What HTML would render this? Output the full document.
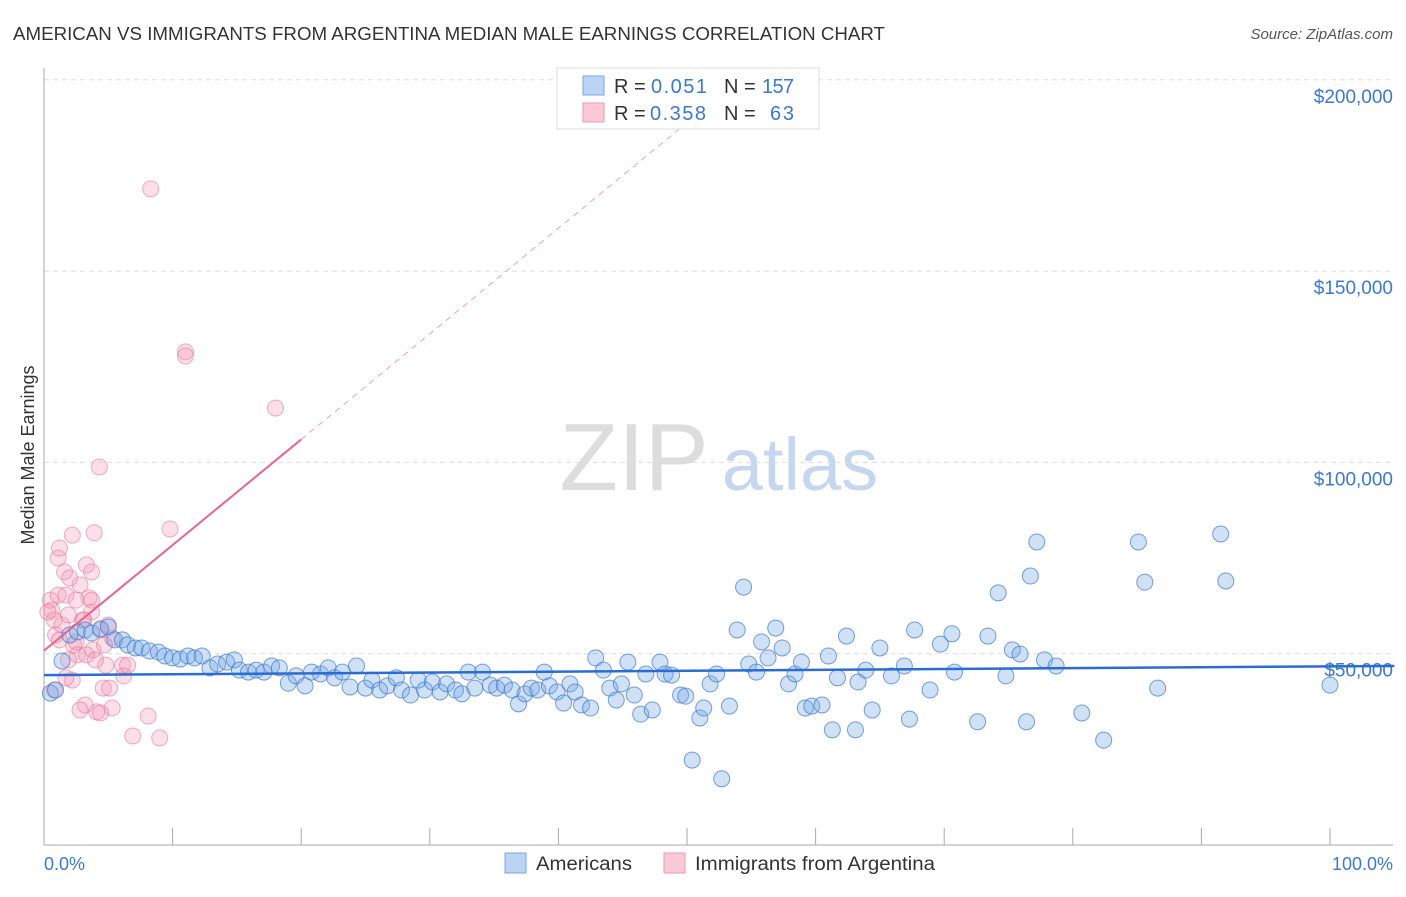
<!DOCTYPE html>
<html><head><meta charset="utf-8"><style>
body{margin:0;background:#fff;font-family:"Liberation Sans",sans-serif;}
svg text{font-family:"Liberation Sans",sans-serif;}
</style></head><body>
<svg width="1406" height="892" xmlns="http://www.w3.org/2000/svg">
<text x="13" y="40" font-size="18" fill="#333" textLength="872" lengthAdjust="spacingAndGlyphs">AMERICAN VS IMMIGRANTS FROM ARGENTINA MEDIAN MALE EARNINGS CORRELATION CHART</text>
<text x="1393" y="39" font-size="15" fill="#555" font-style="italic" text-anchor="end">Source: ZipAtlas.com</text>
<g>
<text x="634" y="490" font-size="96" fill="#ddd" font-family="Liberation Serif" text-anchor="middle">ZIP</text>
<text x="800" y="490" font-size="74" fill="#c5d6ee" text-anchor="middle">atlas</text>
</g>
<g id="grid"></g>
<g id="axes"></g>
<text transform="translate(34,455) rotate(-90)" font-size="18" fill="#333" text-anchor="middle">Median Male Earnings</text>
<text x="44" y="870" font-size="18" fill="#3a78d4">0.0%</text>
<text x="1393" y="870" font-size="18" fill="#3a78d4" text-anchor="end">100.0%</text>
<g id="pts"></g>
<g id="trend"></g>
<g>
<rect x="557" y="68" width="262" height="61" fill="#fff" stroke="#ddd"/>
<rect x="583" y="76" width="21" height="19" fill="#bcd4f4" stroke="#7aa6e0"/>
<rect x="583" y="103" width="21" height="19" fill="#fbc8d8" stroke="#eb98b3"/>
<text x="614" y="93" font-size="20" fill="#333">R = </text><text x="651" y="93" font-size="20" fill="#3a78d4" textLength="56">0.051</text>
<text x="724" y="93" font-size="20" fill="#333">N = </text><text x="762" y="93" font-size="20" fill="#3a78d4" textLength="32">157</text>
<text x="614" y="120" font-size="20" fill="#333">R = </text><text x="650" y="120" font-size="20" fill="#3a78d4" textLength="56">0.358</text>
<text x="724" y="120" font-size="20" fill="#333">N = </text><text x="770" y="120" font-size="20" fill="#3a78d4" textLength="24">63</text>
</g>
<g>
<rect x="505" y="853" width="21" height="20" fill="#bcd4f4" stroke="#7aa6e0"/>
<text x="536" y="870" font-size="19" fill="#333" textLength="96" lengthAdjust="spacingAndGlyphs">Americans</text>
<rect x="664" y="853" width="21" height="20" fill="#fbc8d8" stroke="#eb98b3"/>
<text x="695" y="870" font-size="19" fill="#333" textLength="240" lengthAdjust="spacingAndGlyphs">Immigrants from Argentina</text>
</g>
</svg>
<script>
const yTicks=[50000,100000,150000,200000];
const yTickLabels=["$50,000","$100,000","$150,000","$200,000"];
const xTicks=[0,10,20,30,40,50,60,70,80,90,100];
const blueX=[0.5,0.9,1.4,2.0,2.6,3.2,3.7,4.4,5.0,5.5,6.1,6.5,7.1,7.6,8.2,8.9,9.4,10.0,10.6,11.2,11.7,12.3,12.9,13.5,14.2,14.8,15.2,15.9,16.5,17.1,17.7,18.3,19.0,19.6,20.3,20.8,21.5,22.1,22.6,23.2,23.8,24.3,25.0,25.5,26.1,26.7,27.4,27.8,28.5,29.1,29.6,30.2,30.8,31.3,32.0,32.5,33.0,33.5,34.1,34.7,35.2,35.8,36.4,36.9,37.4,37.9,38.4,38.9,39.3,39.9,40.4,40.9,41.3,41.8,42.5,42.9,43.5,44.0,44.5,44.9,45.4,45.9,46.4,46.8,47.3,47.9,48.3,48.8,49.5,49.9,50.4,51.0,51.3,51.8,52.3,52.7,53.3,53.9,54.4,54.8,55.4,55.8,56.3,56.9,57.4,57.9,58.4,58.9,59.2,59.7,60.5,61.0,61.3,61.7,62.4,63.1,63.3,63.9,64.4,65.0,65.9,66.9,67.3,67.7,68.9,69.7,70.6,70.8,72.6,73.4,74.2,74.8,75.3,75.9,76.4,76.7,77.2,77.8,78.7,80.7,82.4,85.1,85.6,86.6,91.5,91.9,100];
const blueY=[39.7,40.5,48.1,54.9,55.7,56.2,55.4,56.5,57.0,53.6,53.6,52.3,51.5,51.5,50.7,50.4,49.4,48.9,48.6,49.4,48.9,49.4,46.3,47.3,47.8,48.4,45.7,45.2,45.7,45.2,46.8,46.3,42.3,44.2,41.6,45.2,44.7,46.3,43.7,45.2,41.3,46.8,41.0,43.1,40.5,41.6,43.7,40.5,39.2,43.1,40.5,42.6,40.0,42.1,40.5,39.5,45.2,41.0,45.2,41.8,41.0,41.8,40.5,36.9,39.5,41.0,40.5,45.2,41.6,40.0,37.1,42.1,40.0,36.6,35.8,48.9,45.7,41.0,37.9,42.1,47.8,39.2,34.2,44.7,35.3,47.8,44.7,44.4,39.2,38.9,22.2,33.2,35.8,42.1,44.7,17.3,36.3,56.2,67.4,47.3,45.2,53.1,48.9,56.7,51.5,42.1,44.7,47.8,35.8,36.3,36.6,49.4,30.1,43.7,54.6,30.1,42.6,45.7,35.3,51.5,44.2,46.8,32.9,56.2,40.5,52.5,55.2,45.2,32.2,54.6,65.9,44.2,51.0,49.9,32.2,70.3,79.2,48.4,46.8,34.5,27.4,79.2,68.7,41.0,81.3,69.0,41.8];
const pinkX=[0.5,0.6,0.8,0.9,1.1,1.2,1.4,1.6,1.7,1.9,2.0,2.2,2.3,2.5,2.6,2.8,3.0,3.2,3.3,3.5,3.7,3.8,3.9,4.1,4.3,4.4,4.6,4.8,5.0,5.1,5.3,6.1,6.2,6.5,6.9,8.1,8.3,9.0,9.8,11.0,11.0,18.0,2.2,1.7,0.8,3.7,2.8,5.3,3.3,4.0,4.7,1.2,0.3,2.5,3.7,4.4,1.9,1.1,3.1];
const pinkY=[64.0,61.4,58.8,54.9,75.0,77.6,57.5,71.4,65.3,60.1,69.8,81.0,52.3,53.1,49.7,68.0,58.8,36.6,73.2,64.6,60.9,51.0,81.6,34.8,98.8,34.5,41.0,47.0,57.5,41.0,35.8,47.0,44.2,47.0,28.5,33.7,171.5,28.0,82.6,128.9,127.8,114.2,43.1,43.7,40.5,71.4,35.3,54.1,49.7,48.4,52.3,53.6,60.9,64.0,64.0,56.2,48.4,65.3,58.8];
const blueTrend=[44.4,46.8]; // k$ at x=0 and x=105
const pinkTrend=[50.8,106.0]; // k$ at x=0 and x=20
const NS="http://www.w3.org/2000/svg";
const xs=p=>44+p*12.86;
const ys=v=>845-v/50000*191.3;
function mk(t,a,parent){const e=document.createElementNS(NS,t);for(const k in a)e.setAttribute(k,a[k]);document.getElementById(parent).appendChild(e);return e;}
yTicks.forEach((v,i)=>{
 const l=mk('line',{x1:44,x2:1393,y1:ys(v),y2:ys(v),stroke:'#ddd','stroke-dasharray':'5,4'},'grid');
 
 
 const t=mk('text',{x:1393,y:ys(v)+23,'font-size':19,fill:'#3a78d4','text-anchor':'end'},'grid');
 t.textContent=yTickLabels[i];
 
 
});
const ya=mk('line',{x1:44,x2:44,y1:68,y2:845,stroke:'#aaa'},'axes');


const xa=mk('line',{x1:44,x2:1393,y1:845,y2:845,stroke:'#aaa'},'axes');


xTicks.forEach(p=>{
 const t=mk('line',{x1:xs(p),x2:xs(p),y1:828,y2:845,stroke:'#aaa'},'axes');
 
 
});
pinkX.forEach((p,i)=>{
 const c=mk('circle',{cx:xs(p),cy:ys(pinkY[i]*1000),r:8,fill:'rgba(244,150,180,0.3)',stroke:'rgba(230,120,155,0.6)','stroke-width':1},'pts');
 
 
});
blueX.forEach((p,i)=>{
 const c=mk('circle',{cx:xs(p),cy:ys(blueY[i]*1000),r:8,fill:'rgba(120,170,230,0.35)',stroke:'rgba(60,120,210,0.7)','stroke-width':1},'pts');
 
 
});
const bt=mk('line',{x1:xs(0),y1:ys(blueTrend[0]*1000),x2:xs(105),y2:ys(blueTrend[1]*1000),stroke:'#2a6dd2','stroke-width':2.5},'trend');


const pt=mk('line',{x1:xs(0),y1:ys(pinkTrend[0]*1000),x2:xs(20),y2:ys(pinkTrend[1]*1000),stroke:'#e8648e','stroke-width':2},'trend');


const slope=(pinkTrend[1]-pinkTrend[0])/20;
const xEnd=(190-pinkTrend[0])/slope;
const pd=mk('line',{x1:xs(20),y1:ys(pinkTrend[1]*1000),x2:xs(xEnd),y2:ys(190000),stroke:'#eba0b8','stroke-width':1,'stroke-dasharray':'6,5'},'trend');


</script>
</body></html>
